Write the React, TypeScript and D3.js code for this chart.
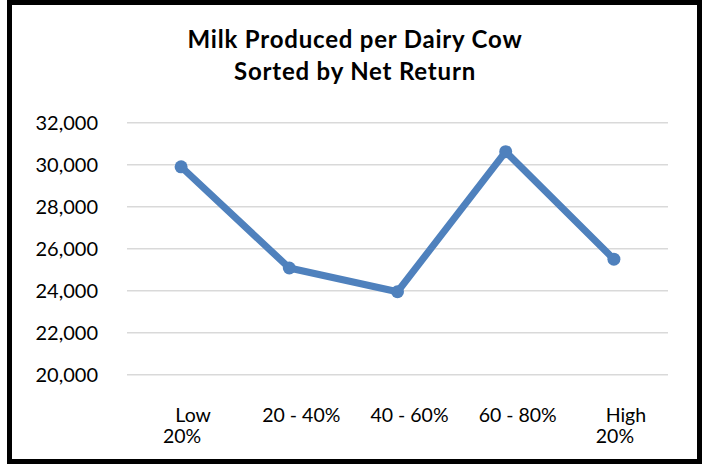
import React from "react";
import * as d3 from "d3";

// Milk per cow (lbs) by net-return quintile
const categories: string[] = ["Low 20%", "20 - 40%", "40 - 60%", "60 - 80%", "High 20%"];
const categoryLines: string[][] = [["Low", "20%"], ["20 - 40%"], ["40 - 60%"], ["60 - 80%"], ["High", "20%"]];
const milkPerCow: number[] = [29900, 25080, 23950, 30620, 25500];
const yTicks: number[] = [20000, 22000, 24000, 26000, 28000, 30000, 32000];
const titleLines: string[] = ["Milk Produced per Dairy Cow", "Sorted by Net Return"];

const W = 704;
const H = 465;
const plot = { left: 127, right: 668, top: 122.7, bottom: 374.7 };
const FONT = "Lato, 'Open Sans', sans-serif";
const BLUE = "#4F81BD";

export default function App() {
  const x = d3
    .scalePoint<string>()
    .domain(categories)
    .range([plot.left, plot.right])
    .padding(0.5);
  const y = d3.scaleLinear().domain([20000, 32000]).range([plot.bottom, plot.top]);
  const fmt = d3.format(",");

  const line = d3
    .line<number>()
    .x((_, i) => x(categories[i]) as number)
    .y((d) => y(d));

  return (
    <svg
      width={W}
      height={H}
      style={{ position: "absolute", left: 0, top: 0, background: "#fff" }}
    >
      <rect x={0} y={0} width={W} height={H} fill="#fff" />
      {/* title */}
      {titleLines.map((t, i) => (
        <text
          key={t}
          x={355}
          y={48 + i * 32}
          textAnchor="middle"
          fontFamily={FONT}
          fontWeight={700}
          fontSize={24}
          letterSpacing={0.8}
          fill="#000"
        >
          {t}
        </text>
      ))}
      {/* gridlines + y labels */}
      {yTicks.map((v) => (
        <g key={v}>
          <line
            x1={plot.left}
            x2={plot.right}
            y1={y(v)}
            y2={y(v)}
            stroke="#D9D9D9"
            strokeWidth={1.5}
          />
          <text
            x={98}
            y={y(v)}
            dy="0.36em"
            textAnchor="end"
            fontFamily={FONT}
            fontSize={20}
            fill="#000"
          >
            {fmt(v)}
          </text>
        </g>
      ))}
      {/* x labels */}
      {categories.map((c, i) => (
        <text
          key={c}
          x={x(c) as number}
          y={422}
          textAnchor="middle"
          fontFamily={FONT}
          fontSize={19.5}
          fill="#000"
        >
          {categoryLines[i].map((ln, j) => (
            <tspan key={j} x={(x(c) as number) + (j === 0 ? 12 : 1)} dy={j === 0 ? 0 : 21}>
              {ln}
            </tspan>
          ))}
        </text>
      ))}
      {/* series */}
      <path
        d={line(milkPerCow) || ""}
        fill="none"
        stroke={BLUE}
        strokeWidth={7}
        strokeLinejoin="round"
        strokeLinecap="round"
      />
      {milkPerCow.map((v, i) => (
        <circle key={i} cx={x(categories[i]) as number} cy={y(v)} r={6.5} fill={BLUE} />
      ))}
      {/* frame */}
      <rect
        x={9.5}
        y={2.5}
        width={690}
        height={459}
        fill="none"
        stroke="#000"
        strokeWidth={5}
      />
    </svg>
  );
}
